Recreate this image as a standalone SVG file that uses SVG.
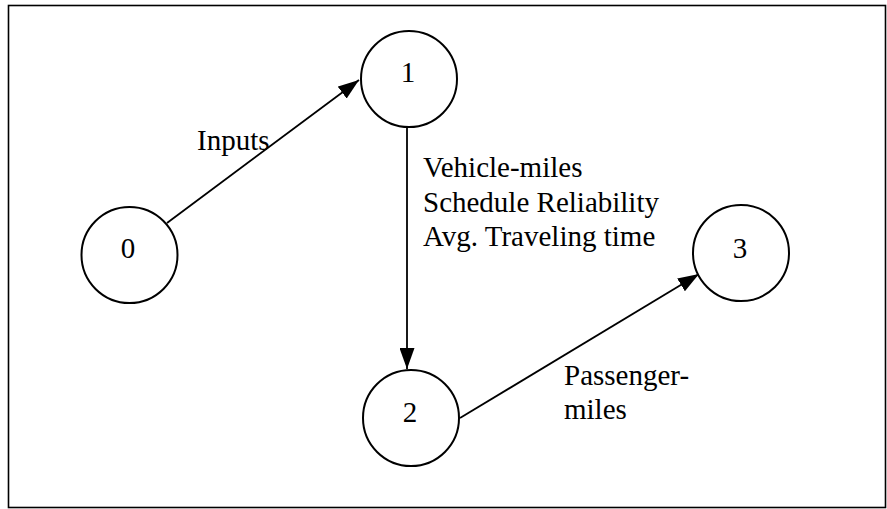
<svg xmlns="http://www.w3.org/2000/svg" width="887" height="509" viewBox="0 0 887 509">
  <style>
    .node circle { fill: #ffffff; stroke: #000000; stroke-width: 2; }
    .lbl { font-family: "Liberation Serif", "Times New Roman", serif; font-size: 29px; fill: #000000; }
    .num { text-anchor: middle; }
    .edge { stroke: #000000; stroke-width: 1.8; fill: none; marker-end: url(#arrow); }
    .frame { fill: none; stroke: #000000; stroke-width: 1.6; }
  </style>
  <defs>
    <marker id="arrow" markerUnits="userSpaceOnUse" markerWidth="21" markerHeight="15" refX="21" refY="7.5" orient="auto">
      <path d="M0,0 L21,7.5 L0,15 Z" fill="#000000"/>
    </marker>
  </defs>
  <rect width="887" height="509" fill="#ffffff"/>
  <rect class="frame" x="8.5" y="5.5" width="877" height="502"/>

  <g id="connectors">
    <line class="edge" x1="167" y1="223" x2="359" y2="80"/>
    <line class="edge" x1="407" y1="127" x2="407" y2="369"/>
    <line class="edge" x1="460" y1="418" x2="699" y2="274"/>
    <text class="lbl" x="197" y="150">Inputs</text>
    <text class="lbl" x="423" y="177">Vehicle-miles</text>
    <text class="lbl" x="423" y="211.5">Schedule Reliability</text>
    <text class="lbl" x="423" y="246">Avg. Traveling time</text>
    <text class="lbl" x="564" y="385">Passenger-</text>
    <text class="lbl" x="564" y="419">miles</text>
  </g>

  <g id="node0" class="node">
    <circle cx="129.5" cy="255" r="48"/>
    <text class="lbl num" x="128" y="258">0</text>
  </g>
  <g id="node1" class="node">
    <circle cx="409" cy="79" r="48"/>
    <text class="lbl num" x="408" y="82">1</text>
  </g>
  <g id="node2" class="node">
    <circle cx="411" cy="418" r="48"/>
    <text class="lbl num" x="410" y="422">2</text>
  </g>
  <g id="node3" class="node">
    <circle cx="741" cy="253" r="48"/>
    <text class="lbl num" x="740" y="258">3</text>
  </g>
</svg>
